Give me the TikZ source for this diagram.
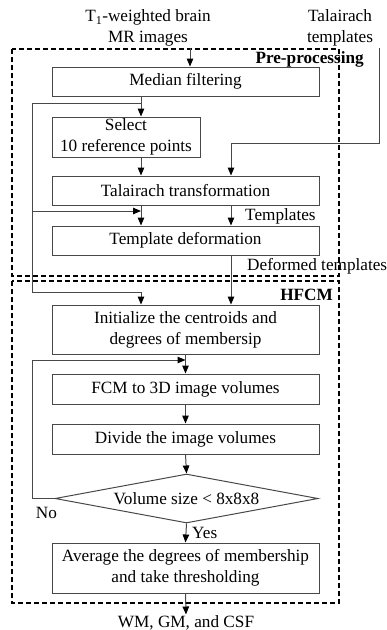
\documentclass[tikz,border=0pt]{standalone}
\usepackage{fontspec}
\setmainfont{Liberation Serif}
\usetikzlibrary{arrows.meta,shapes.geometric}
\definecolor{boxgray}{HTML}{484848}
\definecolor{linegray}{HTML}{484848}
\begin{document}
\begin{tikzpicture}[x=1pt,y=-1pt,
  font=\fontsize{17.2}{21}\selectfont,
  box/.style={draw=boxgray, line width=1pt, minimum width=267pt, inner sep=0pt, align=center},
  arr/.style={draw=linegray, line width=1pt, -{Triangle[length=8pt,width=6.5pt,color=black]}},
  conn/.style={draw=linegray, line width=1pt},
  dbox/.style={draw=black, line width=1.8pt, dash pattern=on 5pt off 3pt},
  lbl/.style={inner sep=0pt},
  title/.style={inner sep=0pt, font=\fontsize{17.2}{21}\selectfont\bfseries}]
\useasboundingbox (0,0) rectangle (387,630);

% dashed groups
\draw[dbox] (12,49) rectangle (339,276);
\draw[dbox] (12,281) rectangle (339,603);
\node[title, anchor=east] (pp) at (364,59) {Pre-processing};
\node[title, anchor=east] (hf) at (333,295) {HFCM};

% inputs
\node[align=center, inner sep=1pt] (t1) at (148,28) {T\textsubscript{1}-weighted brain\\MR images};
\node[align=center, inner sep=1pt] (tt) at (340,28) {Talairach\\templates};

% boxes
\node[box, minimum height=29pt] (med) at (185.5,81.5) {Median filtering};
\node[box, minimum width=148pt, minimum height=40pt] (sel) at (126,137) {Select\\10 reference points};
\node[box, minimum height=29pt] (tr) at (185.5,190.5) {Talairach transformation};
\node[box, minimum height=29pt] (td) at (185.5,240.5) {Template deformation};
\node[box, minimum height=49pt] (init) at (185.5,329.5) {Initialize the centroids and\\degrees of membersip};
\node[box, minimum height=30pt] (fcm) at (185.5,389) {FCM to 3D image volumes};
\node[box, minimum height=30pt] (div) at (185.5,439) {Divide the image volumes};
\node[draw=boxgray, line width=1pt, shape=diamond, aspect=5.37, inner sep=0pt,
      minimum width=263pt, minimum height=49pt] (dia) at (186.5,498.5) {Volume size < 8x8x8};
\node[box, minimum height=50pt] (avg) at (185.5,568) {Average the degrees of membership\\and take thresholding};
\node[inner sep=1pt] (out) at (186,623) {WM, GM, and CSF};

% labels
\node[lbl, anchor=west] (ltpl) at (245,216) {Templates};
\node[lbl, anchor=west] (ldef) at (247,266) {Deformed templates};
\node[lbl] (lno) at (46.5,513) {No};
\node[lbl, anchor=west] (lyes) at (192,533) {Yes};

% helper coordinates
\coordinate (xa) at (141,0);
\coordinate (xb) at (231,0);
\coordinate (xc) at (190,0);
\coordinate (b1) at (141,103);
\coordinate (b2) at (32,103);
\coordinate (b3) at (32,292);
\coordinate (b4) at (141,292);
\coordinate (b5) at (32,211);
\coordinate (k1) at (379,143);
\coordinate (k2) at (231,143);
\coordinate (f1) at (32,360);
\coordinate (f2) at (185.5,360);

% connectors
\draw[arr] (t1.south -| xc) -- (med.north -| xc);
\draw[arr] (med.south -| xa) -- (sel.north -| xa);
\draw[arr] (sel.south -| xa) -- (tr.north -| xa);
\draw[arr] (tt.south -| k1) -- (k1) -- (k2) -- (tr.north -| k2);
\draw[arr] (tr.south -| xa) -- (td.north -| xa);
\draw[arr] (tr.south -| xb) -- (td.north -| xb);
\draw[arr] (b1) -- (b2) -- (b3) -- (b4) -- (init.north -| b4);
\draw[arr] (b5) -- (b5 -| xa);
\draw[arr] (td.south -| xb) -- (init.north -| xb);
\draw[arr] (init.south) -- (fcm.north);
\draw[arr] (fcm.south) -- (div.north);
\draw[arr] (div.south) -- (dia.north);
\draw[arr] (dia.west) -- (dia.west -| f1) -- (f1) -- (f2);
\draw[arr] (dia.south) -- (avg.north);
\draw[arr] (avg.south) -- (out.north);
\end{tikzpicture}
\end{document}
